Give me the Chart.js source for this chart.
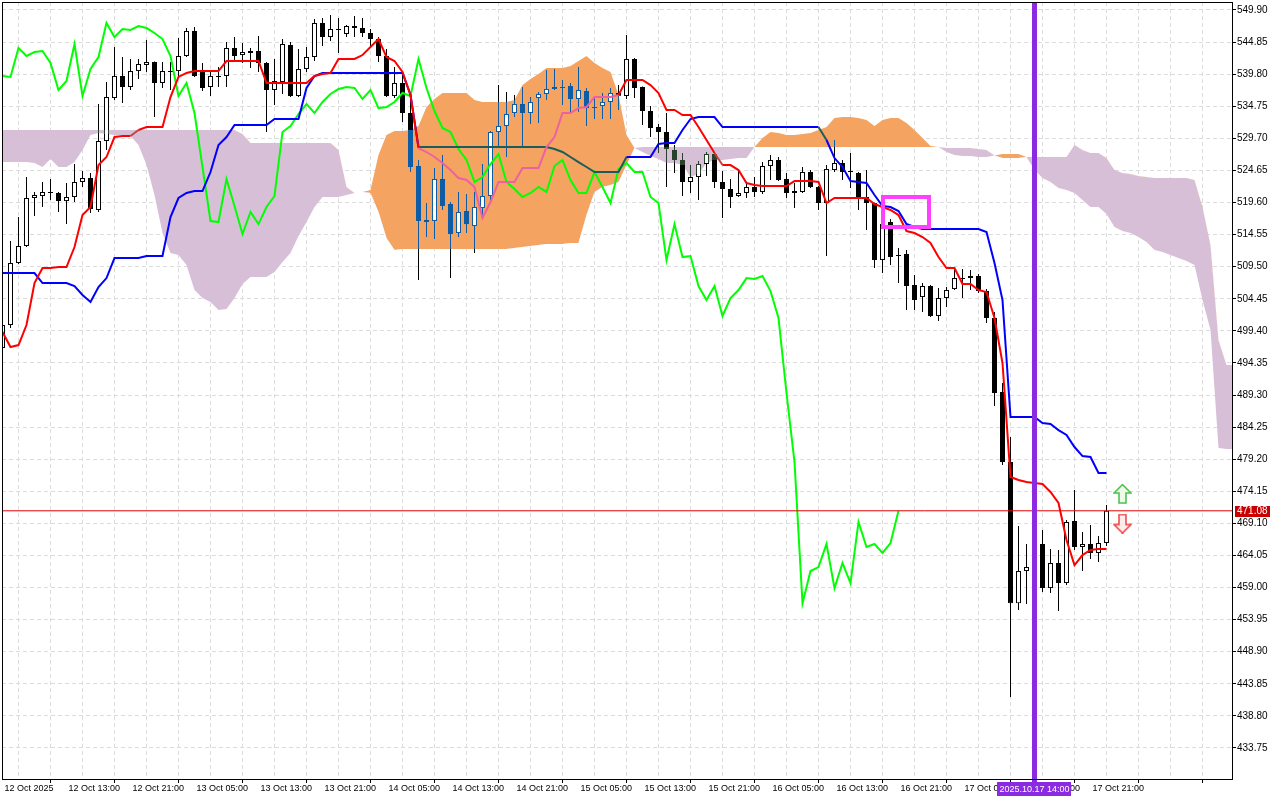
<!DOCTYPE html>
<html>
<head>
<meta charset="utf-8">
<title>Ichimoku H1</title>
<script src="https://cdn.jsdelivr.net/npm/chart.js@4.4.1/dist/chart.umd.min.js"></script>
<style>
  html, body { margin: 0; padding: 0; background: #ffffff; overflow: hidden; }
  canvas { display: block; }
</style>
</head>
<body>
<canvas id="chart" width="1280" height="800"></canvas>
<script>
// one label every 8 hourly bars, first bar = 12 Oct 05:00
const tickLabels = ['12 Oct 2025', '12 Oct 13:00', '12 Oct 21:00', '13 Oct 05:00', '13 Oct 13:00', '13 Oct 21:00',
  '14 Oct 05:00', '14 Oct 13:00', '14 Oct 21:00', '15 Oct 05:00', '15 Oct 13:00', '15 Oct 21:00',
  '16 Oct 05:00', '16 Oct 13:00', '16 Oct 21:00', '17 Oct 05:00', '17 Oct 13:00', '17 Oct 21:00'];

const priceTicks = [549.90, 544.85, 539.80, 534.75, 529.70, 524.65, 519.60, 514.55, 509.50, 504.45, 499.40, 494.35,
  489.30, 484.25, 479.20, 474.15, 469.10, 464.05, 459.00, 453.95, 448.90, 443.85, 438.80, 433.75];

const opens = [496.70, 500.32, 510.08, 512.76, 520.31, 520.63, 521.26, 521.10, 519.83, 520.47,
  522.83, 523.45, 518.42, 529.28, 536.05, 539.52, 537.78, 540.29, 541.24, 541.71,
  538.41, 540.29, 540.29, 542.66, 546.59, 540.29, 537.78, 539.52, 539.52, 543.92,
  542.81, 543.13, 543.44, 541.56, 537.31, 538.57, 544.39, 536.36, 540.61, 542.50,
  547.85, 545.65, 546.91, 546.12, 547.38, 547.06, 546.28, 545.33, 542.66, 536.36,
  538.41, 533.69, 525.34, 516.84, 516.69, 523.29, 519.36, 514.80, 518.26, 515.90,
  518.73, 520.63, 530.70, 531.64, 533.69, 535.10, 533.69, 536.05, 536.68, 537.46,
  537.78, 537.94, 535.89, 537.15, 534.47, 534.79, 535.42, 536.83, 536.36, 542.19,
  537.78, 534.00, 531.48, 530.70, 527.86, 526.29, 522.83, 523.61, 525.66, 527.23,
  522.83, 521.73, 520.63, 521.10, 522.04, 521.26, 525.34, 526.29, 523.29, 521.41,
  521.26, 524.40, 522.04, 519.52, 524.71, 525.82, 524.55, 524.24, 520.47, 519.52,
  510.55, 516.53, 511.33, 511.49, 506.62, 504.72, 506.46, 501.74, 504.57, 505.98,
  507.71, 507.71, 508.03, 505.67, 501.42, 489.77, 478.76, 456.53, 461.60, 462.23,
  465.85, 458.92, 462.86, 459.71, 469.47, 465.38, 465.85, 464.44, 466.01];

const highs = [501.11, 513.54, 517.32, 523.61, 521.26, 522.83, 523.29, 521.26, 522.67, 525.66,
  524.55, 524.24, 535.10, 538.56, 544.07, 542.50, 542.19, 542.19, 545.18, 541.80,
  541.71, 541.71, 545.49, 547.06, 547.22, 541.56, 540.29, 540.92, 544.86, 545.65,
  544.70, 543.92, 545.81, 541.71, 542.19, 545.33, 544.86, 543.76, 544.07, 548.48,
  548.64, 549.11, 548.64, 547.54, 548.95, 548.64, 546.91, 545.65, 543.76, 540.92,
  539.67, 536.83, 526.29, 519.52, 525.03, 527.07, 519.68, 521.26, 520.94, 521.26,
  525.66, 530.85, 538.09, 536.99, 536.52, 537.78, 536.20, 536.99, 540.45, 540.61,
  538.88, 538.41, 540.92, 537.62, 536.05, 536.83, 537.62, 538.09, 545.96, 542.34,
  537.85, 534.79, 531.95, 533.69, 528.65, 527.39, 525.50, 526.13, 527.55, 527.55,
  524.55, 523.29, 524.55, 522.67, 523.61, 525.97, 527.07, 526.76, 524.24, 522.67,
  525.19, 524.71, 522.20, 525.50, 529.44, 526.29, 527.39, 524.40, 524.71, 519.60,
  517.63, 517.00, 512.44, 512.12, 508.19, 506.93, 506.62, 506.15, 506.30, 509.29,
  509.13, 508.97, 508.34, 505.98, 502.36, 491.19, 482.69, 468.68, 465.85, 466.48,
  468.05, 465.06, 464.91, 469.63, 474.35, 467.74, 468.84, 467.11, 472.00];

const lows = [496.38, 499.85, 509.92, 512.60, 517.48, 518.89, 519.99, 518.11, 516.21, 519.68,
  522.04, 517.95, 518.11, 527.86, 535.73, 535.26, 537.31, 539.04, 540.14, 533.05,
  537.62, 537.31, 539.36, 542.50, 539.36, 537.15, 536.36, 537.78, 537.78, 541.71,
  541.56, 540.77, 540.14, 530.70, 534.95, 536.68, 536.20, 536.20, 540.14, 541.87,
  544.23, 545.02, 543.13, 545.65, 545.65, 545.65, 544.23, 541.71, 536.20, 536.05,
  532.27, 524.40, 507.40, 514.17, 513.86, 518.42, 507.71, 514.17, 514.80, 511.65,
  517.16, 519.68, 528.33, 526.76, 533.05, 528.17, 531.95, 532.11, 535.73, 537.31,
  534.95, 533.85, 533.85, 531.64, 532.74, 532.74, 532.74, 534.16, 535.89, 536.05,
  531.80, 529.91, 527.39, 522.04, 524.24, 520.63, 521.10, 519.99, 523.77, 521.89,
  517.16, 518.73, 520.47, 520.31, 520.47, 520.94, 523.14, 522.98, 520.31, 518.73,
  521.10, 521.89, 518.42, 511.18, 524.40, 523.14, 521.89, 518.42, 515.27, 509.29,
  508.50, 509.76, 506.93, 502.68, 502.68, 502.36, 501.60, 500.95, 503.15, 505.83,
  504.57, 505.83, 505.35, 500.64, 487.57, 478.29, 441.77, 455.46, 456.41, 461.76,
  458.29, 458.14, 455.30, 459.39, 464.91, 461.60, 463.49, 463.02, 465.54];

const closes = [500.32, 510.08, 512.76, 520.31, 520.78, 521.26, 521.10, 519.83, 520.47, 522.83,
  523.45, 518.58, 529.28, 536.20, 539.52, 537.78, 540.29, 541.40, 541.71, 538.41,
  540.29, 540.14, 542.66, 546.59, 539.52, 537.62, 539.52, 539.36, 543.92, 542.66,
  543.29, 543.44, 541.56, 537.31, 538.73, 544.55, 536.36, 540.61, 542.50, 547.85,
  545.65, 546.91, 546.75, 547.38, 547.06, 546.28, 545.33, 542.66, 536.36, 538.41,
  533.69, 525.19, 516.69, 516.53, 523.29, 519.05, 514.64, 518.11, 516.21, 518.89,
  520.63, 530.70, 531.64, 533.53, 535.10, 533.69, 535.42, 536.68, 537.46, 537.78,
  537.62, 535.89, 537.31, 534.47, 534.63, 535.42, 536.83, 536.36, 542.19, 537.62,
  534.00, 531.33, 530.70, 528.02, 526.29, 522.83, 523.61, 525.66, 527.23, 522.83,
  521.73, 520.47, 521.10, 522.04, 521.26, 525.34, 526.29, 523.14, 521.10, 521.10,
  524.40, 522.04, 519.52, 524.87, 525.82, 524.40, 524.40, 520.47, 519.52, 510.55,
  516.21, 511.02, 511.18, 506.46, 504.25, 506.46, 501.74, 504.57, 505.83, 507.71,
  507.56, 508.03, 505.67, 501.42, 489.62, 478.76, 456.53, 461.60, 462.23, 465.85,
  458.92, 462.86, 459.71, 469.32, 465.38, 465.85, 464.44, 466.01, 471.08];

// Ichimoku lines
const tenkan = [499.22, 496.86, 497.17, 500.32, 506.93, 509.29, 509.29, 509.44, 509.44, 512.60,
  517.63, 518.89, 525.50, 526.76, 529.91, 530.07, 530.07, 531.01, 531.48, 531.48,
  531.48, 536.20, 539.36, 539.99, 540.29, 540.29, 540.29, 540.29, 541.87, 541.87,
  541.87, 541.87, 541.87, 538.41, 538.41, 538.41, 538.41, 538.41, 538.41, 539.52,
  539.83, 539.99, 542.19, 542.19, 542.19, 542.81, 544.07, 545.33, 542.50, 541.87,
  540.14, 536.52, 528.17, 527.55, 526.76, 525.82, 524.71, 523.45, 523.14, 522.04,
  517.16, 519.68, 522.83, 522.83, 522.83, 525.03, 525.03, 525.03, 528.33, 529.91,
  533.69, 533.69, 534.47, 534.63, 536.20, 536.20, 536.20, 536.52, 538.88, 538.88,
  538.88, 538.09, 536.83, 534.16, 534.16, 533.37, 533.37, 531.48, 529.44, 527.39,
  525.50, 525.50, 524.71, 522.67, 522.36, 522.20, 522.20, 522.20, 522.20, 522.98,
  522.98, 522.98, 522.83, 519.52, 520.31, 520.31, 520.31, 520.31, 520.31, 519.36,
  518.89, 518.42, 517.63, 515.11, 514.80, 514.17, 513.23, 511.02, 509.29, 509.29,
  506.77, 506.77, 505.83, 505.51, 501.42, 494.34, 476.40, 475.92, 475.61, 475.45,
  475.29, 474.04, 472.31, 466.48, 462.54, 464.12, 464.91, 465.06, 465.06];

const kijun = [508.50, 508.50, 508.50, 508.50, 508.50, 506.93, 506.93, 506.93, 506.93, 506.46,
  505.04, 503.94, 506.30, 507.71, 510.86, 510.86, 510.86, 510.86, 511.18, 511.18,
  511.18, 517.32, 520.31, 521.10, 521.41, 521.41, 524.40, 528.65, 529.91, 531.80,
  531.80, 531.80, 531.80, 531.80, 532.74, 532.74, 532.74, 532.74, 537.62, 539.52,
  539.99, 539.99, 539.99, 539.99, 539.99, 539.99, 539.99, 539.99, 539.99, 539.99,
  539.99, 536.52, 528.33, 528.33, 528.33, 528.33, 528.33, 528.33, 528.33, 528.33,
  528.33, 528.33, 528.33, 528.33, 528.33, 528.33, 528.33, 528.33, 528.33, 528.02,
  527.55, 526.76, 525.97, 525.19, 524.40, 524.40, 524.40, 524.40, 526.76, 526.76,
  526.76, 526.76, 528.81, 528.96, 528.96, 531.01, 532.74, 533.05, 533.05, 533.05,
  531.48, 531.48, 531.48, 531.48, 531.48, 531.48, 531.48, 531.48, 531.48, 531.48,
  531.48, 531.48, 531.48, 529.44, 526.60, 525.19, 522.98, 522.83, 522.67, 520.78,
  519.05, 518.89, 518.26, 516.21, 515.74, 515.43, 515.43, 515.43, 515.43, 515.43,
  515.43, 515.43, 515.43, 514.95, 510.08, 504.25, 485.84, 485.84, 485.84, 485.84,
  484.90, 484.74, 483.79, 483.01, 481.12, 479.70, 479.55, 477.03, 477.03];

// senkou spans, already shifted 26 bars ahead (index = bar slot on screen)
const spanA = [525.98, 525.98, 525.98, 525.98, 525.82, 525.19, 526.45, 525.19, 525.19, 525.98,
  527.86, 530.22, 530.54, 530.38, 530.22, 530.22, 530.07, 528.65, 525.50, 520.78,
  514.80, 511.65, 511.33, 509.76, 505.83, 504.57, 503.94, 502.68, 502.84, 504.57,
  506.77, 507.87, 507.87, 507.87, 508.66, 510.24, 511.65, 514.33, 516.53, 518.89,
  520.47, 520.47, 520.47, 520.78, 521.10, 521.26, 521.57, 527.07, 530.22, 530.85,
  530.85, 531.01, 531.64, 534.63, 535.89, 536.83, 536.83, 536.83, 536.83, 535.73,
  535.42, 535.42, 535.42, 535.42, 535.73, 538.09, 539.04, 539.83, 540.77, 540.77,
  540.77, 541.09, 541.87, 542.66, 541.56, 540.77, 540.14, 536.52, 530.22, 528.17,
  527.55, 526.92, 526.45, 525.82, 525.82, 525.50, 523.61, 524.08, 525.82, 526.29,
  526.29, 526.45, 526.60, 526.60, 528.33, 529.75, 530.70, 530.54, 530.22, 530.22,
  530.38, 530.54, 531.01, 531.48, 532.90, 533.05, 533.05, 532.90, 532.58, 531.64,
  532.58, 532.90, 532.90, 532.11, 531.01, 529.75, 528.49, 528.33, 527.55, 527.07,
  526.92, 526.92, 526.76, 526.76, 526.99, 527.23, 527.23, 527.23, 526.76, 524.71,
  523.45, 522.83, 521.89, 521.57, 521.10, 519.99, 518.89, 518.89, 517.79, 515.74,
  515.11, 514.80, 514.17, 513.38, 512.12, 511.81, 511.33, 510.86, 510.39, 509.76,
  504.25, 499.53, 480.96, 480.80, 480.80];

const spanB = [531.01, 531.01, 531.01, 531.01, 531.01, 531.01, 531.01, 531.01, 531.01, 531.01,
  531.01, 531.01, 531.01, 531.01, 531.01, 531.01, 531.01, 531.01, 531.01, 531.01,
  531.01, 531.01, 531.01, 531.01, 531.01, 531.01, 531.01, 531.01, 531.01, 531.01,
  530.38, 528.96, 528.96, 528.96, 528.96, 528.96, 528.96, 528.96, 528.96, 528.96,
  528.96, 528.96, 527.86, 522.04, 521.10, 521.26, 521.10, 518.11, 514.01, 512.12,
  512.28, 512.28, 512.28, 512.28, 512.28, 512.28, 512.28, 512.28, 512.28, 512.28,
  512.28, 512.28, 512.28, 512.28, 512.44, 512.60, 512.76, 512.91, 513.07, 513.07,
  513.07, 513.23, 513.23, 517.63, 521.26, 522.04, 522.36, 522.83, 525.50, 528.17,
  528.33, 528.33, 528.33, 528.33, 528.33, 528.33, 528.33, 528.33, 528.33, 528.33,
  528.33, 528.33, 528.33, 528.33, 528.33, 528.33, 528.33, 528.33, 528.33, 528.33,
  528.33, 528.33, 528.33, 528.33, 528.33, 528.33, 528.33, 528.33, 528.33, 528.33,
  528.33, 528.33, 528.33, 528.33, 528.33, 528.33, 528.33, 528.33, 528.17, 528.17,
  528.17, 528.17, 528.02, 527.86, 526.99, 526.60, 526.60, 526.60, 526.76, 526.76,
  526.76, 526.76, 526.76, 526.76, 528.65, 527.86, 527.39, 527.39, 526.60, 524.71,
  524.24, 524.08, 523.77, 523.61, 523.45, 523.45, 523.45, 523.45, 523.45, 523.14,
  518.89, 512.91, 497.96, 494.03, 494.03];

const chikouShift = 26;          // chikou = close plotted 26 bars back
const lastPrice = 471.08;
const markerIndex = 129;         // vertical line
const markerLabel = '2025.10.17 14:00';
const boxTimes = [110.1, 115.9];
const boxPrices = [520.47, 515.74];
const signalIndex = 140;
const signalUp = 473.72;
const signalDown = 469.08;

const RED = '#ff0000', BLUE = '#0000ff', LIME = '#00ff00';
const ORANGE = '#f4a460', THISTLE = '#d8bfd8';
const TINT_UP = '#0d5ca6', TINT_DOWN = '#27412b';

Chart.defaults.font.family = "'Liberation Sans', Arial, sans-serif";
Chart.defaults.color = '#000000';

// which cloud (if any) covers price v at a (fractional) bar slot
function zoneAt(x, v) {
  const i0 = Math.floor(x), i1 = Math.ceil(x), t = x - i0;
  if (spanA[i1] === undefined) return null;
  const a = spanA[i0] + (spanA[i1] - spanA[i0]) * t;
  const b = spanB[i0] + (spanB[i1] - spanB[i0]) * t;
  if (v <= Math.max(a, b) && v >= Math.min(a, b)) return a > b ? 'up' : 'down';
  return null;
}

function clipToCloud(i, lo, hi) {
  const a = spanA[i], b = spanB[i];
  const top = Math.max(a, b), bot = Math.min(a, b);
  const l = Math.max(lo, bot), h = Math.min(hi, top);
  if (h - l <= 0) return null;
  return { l, h, cutBot: lo < bot, cutTop: hi > top, zone: a > b ? 'up' : 'down' };
}

const wickData = [], bodyData = [], wickTint = [], bodyTint = [];
opens.forEach((o, i) => {
  const c = closes[i];
  wickData.push({ x: i, y: [lows[i], highs[i]] });
  bodyData.push({ x: i, y: [o, c] });
  const w = clipToCloud(i, lows[i], highs[i]);
  if (w) wickTint.push({ x: i, y: [w.l, w.h], zone: w.zone });
  const b = clipToCloud(i, Math.min(o, c), Math.max(o, c));
  if (b) bodyTint.push({ x: i, y: [b.l, b.h], zone: b.zone, bull: c > o, cutTop: b.cutTop, cutBot: b.cutBot });
});

const tintOf = z => z === 'up' ? TINT_UP : TINT_DOWN;

function arrowImage(up, stroke, fill) {
  const cv = document.createElement('canvas');
  cv.width = 19; cv.height = 20;
  const g = cv.getContext('2d');
  const pts = up
    ? [[9.5, 0.5], [18, 9], [13, 9], [13, 19], [6, 19], [6, 9], [1, 9]]
    : [[9.5, 19.5], [18, 11], [13, 11], [13, 1], [6, 1], [6, 11], [1, 11]];
  g.beginPath();
  pts.forEach((p, k) => k ? g.lineTo(p[0], p[1]) : g.moveTo(p[0], p[1]));
  g.closePath();
  g.fillStyle = fill; g.fill();
  g.lineWidth = 1.5; g.strokeStyle = stroke; g.stroke();
  return cv;
}

const xMin = -0.0625, xMax = 153.6875;

const decor = {
  id: 'decor',
  afterDatasetsDraw(chart) {
    const { ctx, chartArea: a, scales: { x, y } } = chart;
    ctx.save();
    ctx.beginPath();
    ctx.rect(a.left, a.top, a.right - a.left, a.bottom - a.top);
    ctx.clip();
    const x0 = x.getPixelForValue(boxTimes[0]), x1 = x.getPixelForValue(boxTimes[1]);
    const y0 = y.getPixelForValue(boxPrices[0]), y1 = y.getPixelForValue(boxPrices[1]);
    ctx.strokeStyle = '#ff40ff';
    ctx.lineWidth = 4;
    ctx.strokeRect(Math.round(x0), Math.round(y0), Math.round(x1 - x0), Math.round(y1 - y0));
    ctx.restore();
  },
  afterDraw(chart) {
    const { ctx, chartArea: a, scales: { x, y } } = chart;
    ctx.save();
    // time marker
    const vx = x.getPixelForValue(markerIndex);
    ctx.fillStyle = '#8a2be2';
    ctx.fillRect(Math.round(vx) - 3, a.top, 5, a.bottom + 4 - a.top);
    ctx.font = "9px 'Liberation Sans', Arial, sans-serif";
    const tw = ctx.measureText(markerLabel).width;
    ctx.fillRect(Math.round(vx - tw / 2 - 2), 782, Math.round(tw + 4), 14);
    ctx.fillStyle = '#ffffff';
    ctx.textAlign = 'center';
    ctx.textBaseline = 'middle';
    ctx.fillText(markerLabel, vx, 789.5);
    // frame
    ctx.strokeStyle = '#000000';
    ctx.lineWidth = 1;
    ctx.strokeRect(a.left + 0.5, a.top + 0.5, a.right - a.left, a.bottom - a.top);
    // last price tag
    const py = Math.round(y.getPixelForValue(lastPrice));
    ctx.fillStyle = '#c80000';
    ctx.fillRect(a.right + 3, py - 5, 35, 11);
    ctx.fillStyle = '#ffffff';
    ctx.font = "10px 'Liberation Sans', Arial, sans-serif";
    ctx.textAlign = 'left';
    ctx.fillText(lastPrice.toFixed(2), a.right + 5, py + 0.5);
    ctx.restore();
  }
};

new Chart(document.getElementById('chart'), {
  type: 'line',
  data: {
    datasets: [
      {
        label: 'Senkou A', data: spanA.map((v, i) => ({ x: i, y: v })),
        borderWidth: 0, pointRadius: 0, order: 20,
        fill: { target: 1, above: ORANGE, below: THISTLE }
      },
      {
        label: 'Senkou B', data: spanB.map((v, i) => ({ x: i, y: v })),
        borderWidth: 0, pointRadius: 0, order: 21, fill: false
      },
      {
        type: 'bar', label: 'wick', data: wickData, order: 12, grouped: false,
        barThickness: 1, backgroundColor: '#000000', borderWidth: 0, inflateAmount: 0
      },
      {
        type: 'bar', label: 'wick tint', data: wickTint, order: 11, grouped: false,
        barThickness: 1, borderWidth: 0, inflateAmount: 0,
        backgroundColor: c => c.raw ? tintOf(c.raw.zone) : TINT_UP
      },
      {
        type: 'bar', label: 'body', data: bodyData, order: 10, grouped: false,
        barThickness: 5, minBarLength: 1, borderWidth: 1, borderSkipped: false, inflateAmount: 0,
        borderColor: '#000000',
        backgroundColor: closes.map((c, i) => c > opens[i] ? '#ffffff' : '#000000')
      },
      {
        type: 'bar', label: 'body tint', data: bodyTint, order: 9, grouped: false,
        barThickness: 5, borderSkipped: false, inflateAmount: 0,
        borderColor: c => c.raw ? tintOf(c.raw.zone) : TINT_UP,
        backgroundColor: c => c.raw && c.raw.bull ? '#ffffff' : (c.raw ? tintOf(c.raw.zone) : TINT_UP),
        borderWidth: c => (c.raw && c.raw.bull)
          ? { left: 1, right: 1, top: c.raw.cutTop ? 0 : 1, bottom: c.raw.cutBot ? 0 : 1 } : 0
      },
      {
        label: 'Chikou', data: closes.slice(chikouShift).map((v, i) => ({ x: i, y: v })),
        borderColor: LIME, borderWidth: 2, pointRadius: 0, order: 6, fill: false
      },
      {
        label: 'Kijun', data: kijun.map((v, i) => ({ x: i, y: v })),
        borderColor: BLUE, borderWidth: 2, pointRadius: 0, order: 5, fill: false,
        segment: {
          borderColor: c => {
            const z = zoneAt(c.p0DataIndex + 0.5, (kijun[c.p0DataIndex] + kijun[c.p1DataIndex]) / 2);
            return z === 'up' ? '#1d5c5c' : BLUE;
          }
        }
      },
      {
        label: 'Tenkan', data: tenkan.map((v, i) => ({ x: i, y: v })),
        borderColor: RED, borderWidth: 2, pointRadius: 0, order: 4, fill: false,
        segment: {
          borderColor: c => {
            const z = zoneAt(c.p0DataIndex + 0.5, (tenkan[c.p0DataIndex] + tenkan[c.p1DataIndex]) / 2);
            return z === 'up' ? '#ec62a0' : z === 'down' ? '#c8413c' : RED;
          }
        }
      },
      {
        label: 'Bid', data: [{ x: xMin, y: lastPrice }, { x: xMax, y: lastPrice }],
        borderColor: '#e00000', borderWidth: 1, pointRadius: 0, order: 3, fill: false
      },
      {
        label: 'Buy', data: [{ x: signalIndex, y: signalUp }], showLine: false, order: 2,
        pointStyle: arrowImage(true, '#48c048', '#eefbe8'), pointRadius: 9
      },
      {
        label: 'Sell', data: [{ x: signalIndex, y: signalDown }], showLine: false, order: 2,
        pointStyle: arrowImage(false, '#f04040', '#fdeceb'), pointRadius: 9
      }
    ]
  },
  options: {
    responsive: false,
    animation: false,
    devicePixelRatio: 1,
    events: [],
    layout: { autoPadding: false, padding: { left: 2, top: 2, right: 0, bottom: 0 } },
    plugins: { legend: { display: false }, tooltip: { enabled: false } },
    scales: {
      x: {
        type: 'linear', min: xMin, max: xMax, offset: false,
        afterBuildTicks: s => { s.ticks = Array.from({ length: 39 }, (_, k) => ({ value: k * 4 })); },
        afterFit: s => { s.height = 21; s.paddingLeft = 0; s.paddingRight = 0; },
        ticks: {
          autoSkip: false, maxRotation: 0, minRotation: 0, align: 'start', labelOffset: 2, padding: 0,
          font: { size: 9 }, color: '#000000',
          callback: v => (v % 8 === 0 && tickLabels[v / 8]) ? tickLabels[v / 8] : ''
        },
        grid: {
          color: '#dcdcdc', lineWidth: 1, tickLength: 4,
          tickColor: c => (c.tick && c.tick.value % 8 === 0) ? '#000000' : 'rgba(0,0,0,0)'
        },
        border: { display: false, dash: [4, 3] }
      },
      y: {
        type: 'linear', position: 'right', min: 428.871, max: 551.159,
        afterBuildTicks: s => { s.ticks = priceTicks.map(v => ({ value: v })); },
        afterFit: s => { s.width = 48; s.paddingTop = 0; s.paddingBottom = 0; },
        ticks: { padding: 1, font: { size: 10 }, color: '#000000', callback: v => Number(v).toFixed(2) },
        grid: { color: '#dcdcdc', lineWidth: 1, tickLength: 4, tickColor: '#000000' },
        border: { display: false, dash: [4, 3] }
      }
    }
  },
  plugins: [decor]
});
</script>
</body>
</html>
